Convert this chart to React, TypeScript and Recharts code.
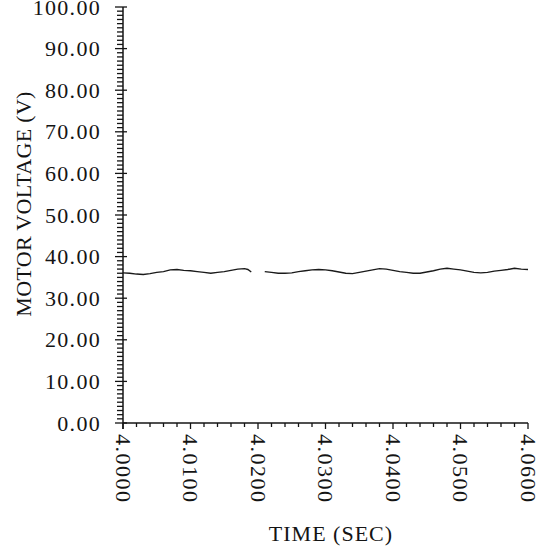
import React from "react";
import { LineChart, Line, XAxis, YAxis } from "recharts";

// time offsets after 4.0000 s, in milliseconds
const timeMs = [
  0, 1, 2, 3, 4, 5, 6, 7, 8, 9, 10, 11, 12, 13, 14, 15, 16, 17, 18, 18.5, 19, 20,
  21, 22, 23, 24, 25, 26, 27, 28, 29, 30, 31, 32, 33, 34, 35, 36, 37, 38, 39, 40,
  41, 42, 43, 44, 45, 46, 47, 48, 49, 50, 51, 52, 53, 54, 55, 56, 57, 58, 59, 60,
];

// motor voltage (V); null marks the gap in the trace
const voltage = [
  36.1, 36.0, 35.8, 35.7, 35.9, 36.2, 36.4, 36.8, 36.9, 36.7, 36.6, 36.4, 36.2, 36.0, 36.2, 36.4, 36.7, 37.0, 37.1, 36.9, 36.3, null,
  36.4, 36.2, 36.0, 36.0, 36.1, 36.4, 36.6, 36.8, 36.9, 36.8,
  36.6, 36.3, 36.0, 35.9, 36.2, 36.5, 36.8, 37.1, 37.0, 36.7,
  36.4, 36.2, 36.0, 36.0, 36.3, 36.6, 37.0, 37.2, 37.0, 36.8,
  36.5, 36.2, 36.1, 36.2, 36.5, 36.7, 36.9, 37.2, 37.0, 36.9,
];

const xLabels = ["4.0000", "4.0100", "4.0200", "4.0300", "4.0400", "4.0500", "4.0600"];
const yLabels = ["0.00", "10.00", "20.00", "30.00", "40.00", "50.00", "60.00", "70.00", "80.00", "90.00", "100.00"];

const data = timeMs.map((ms, i) => ({ t: 4 + ms / 1000, v: voltage[i] }));

// minor ticks: every 0.002 s and every 1 V
const xTicks = Array.from({ length: 31 }, (_, i) => 4 + i * 0.002);
const yTicks = Array.from({ length: 101 }, (_, i) => i);

const FONT = "'Liberation Serif', 'Times New Roman', serif";
const INK = "#141414";

const XTick = ({ x, y, payload }: any) => {
  const i = Math.round((payload.value - 4) / 0.002);
  const major = i % 5 === 0;
  return (
    <g>
      <line x1={x} y1={y} x2={x} y2={y + (major ? 6 : 4)} stroke={INK} strokeWidth={1.3} />
      {major && (
        <text
          x={x}
          y={y + 11}
          transform={`rotate(90, ${x}, ${y + 11})`}
          textAnchor="start"
          dominantBaseline="central"
          fontFamily={FONT}
          fontSize={22}
          letterSpacing={1.5}
          fill={INK}
        >
          {xLabels[i / 5]}
        </text>
      )}
    </g>
  );
};

const YTick = ({ x, y, payload }: any) => {
  const v = payload.value;
  const major = v % 10 === 0;
  return (
    <g>
      <line x1={major ? x - 8 : x - 6} y1={y} x2={major ? x + 4 : x} y2={y} stroke={INK} strokeWidth={1.3} />
      {v === 0 && <line x1={x} y1={y} x2={x} y2={y + 6} stroke={INK} strokeWidth={1.5} />}
      {major && (
        <text
          x={x - 22}
          y={y}
          textAnchor="end"
          dominantBaseline="central"
          fontFamily={FONT}
          fontSize={22}
          letterSpacing={1.3}
          fill={INK}
        >
          {yLabels[v / 10]}
        </text>
      )}
    </g>
  );
};

const XTitle = () => (
  <text x={331} y={533} textAnchor="middle" dominantBaseline="central" fontFamily={FONT} fontSize={22} letterSpacing={1} fill={INK}>
    TIME (SEC)
  </text>
);

const YTitle = () => (
  <text
    x={23}
    y={204}
    transform="rotate(-90, 23, 204)"
    textAnchor="middle"
    dominantBaseline="central"
    fontFamily={FONT}
    fontSize={22}
    letterSpacing={0.3}
    fill={INK}
  >
    MOTOR VOLTAGE (V)
  </text>
);

export default function App() {
  return (
    <div style={{ position: "absolute", left: 0, top: 0, width: 539, height: 550, background: "#fff" }}>
      <LineChart width={539} height={550} data={data} margin={{ top: 7, right: 11, left: 0, bottom: 0 }}>
        <XAxis
          dataKey="t"
          type="number"
          domain={[4, 4.06]}
          ticks={xTicks}
          interval={0}
          tick={<XTick />}
          tickLine={false}
          tickSize={0}
          tickMargin={0}
          height={127}
          axisLine={{ stroke: INK, strokeWidth: 1.5 }}
          label={<XTitle />}
        />
        <YAxis
          type="number"
          domain={[0, 100]}
          ticks={yTicks}
          interval={0}
          tick={<YTick />}
          tickLine={false}
          tickSize={0}
          tickMargin={0}
          width={123}
          axisLine={{ stroke: INK, strokeWidth: 1.5 }}
          label={<YTitle />}
        />
        <Line
          dataKey="v"
          type="linear"
          stroke="#1a1a1a"
          strokeWidth={1.4}
          dot={false}
          connectNulls={false}
          isAnimationActive={false}
        />
      </LineChart>
    </div>
  );
}
